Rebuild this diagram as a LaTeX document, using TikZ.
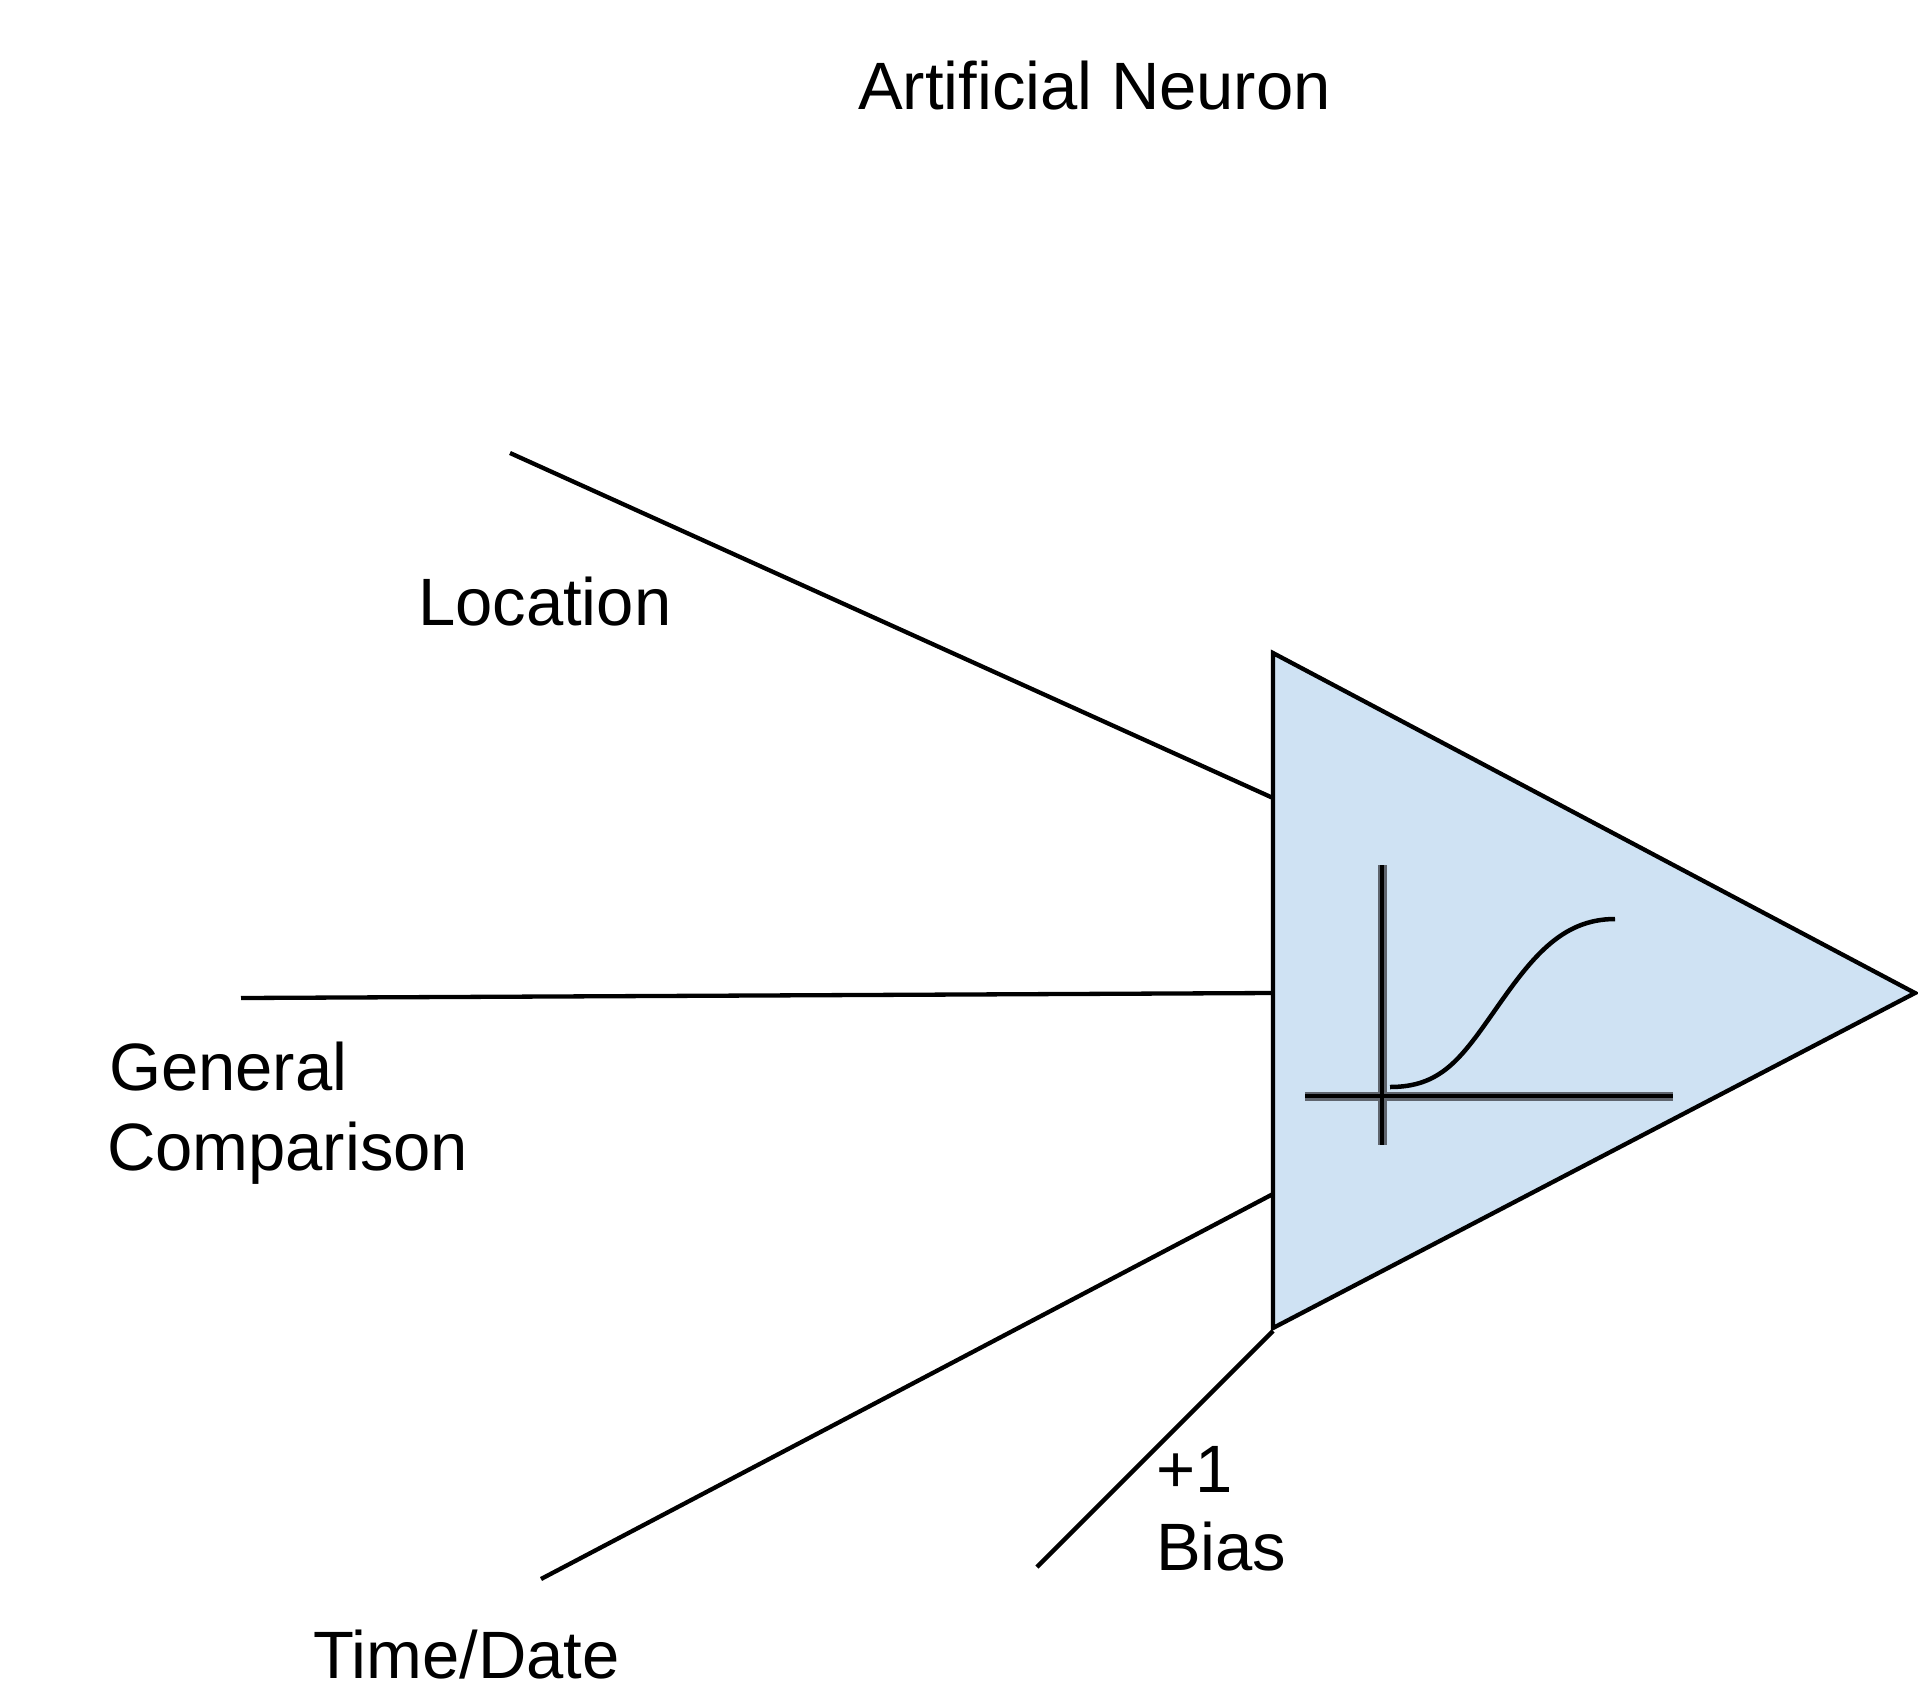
\documentclass[tikz,border=0pt]{standalone}
\usepackage{fontspec}
\setmainfont{Liberation Sans}
\definecolor{neuronfill}{RGB}{207,226,243}
\definecolor{halo}{RGB}{95,101,110}
\begin{document}
\begin{tikzpicture}[x=1pt,y=-1pt,
  lbl/.style={inner sep=0pt,outer sep=0pt,anchor=base west,font=\fontsize{67}{80}\selectfont},
  wire/.style={line width=4.3pt,black},
  axisline/.style={line width=4.5pt,black}]
\useasboundingbox (0,0) rectangle (1918,1699);
% title
\node[lbl] (title) at (858,110) {Artificial Neuron};
% triangle (neuron body)
\coordinate (tl) at (1273,653);
\coordinate (bl) at (1273,1328);
\coordinate (tip) at (1915,993);
\draw[line width=4.3pt,fill=neuronfill,line join=miter] (tl) -- (tip) -- (bl) -- cycle;
% input end points on the body
\coordinate (locIn) at (1273,798);
\coordinate (genIn) at (1273,993);
\coordinate (timeIn) at (1273,1194);
\coordinate (biasIn) at (1273,1331);
% free ends
\coordinate (locEnd) at (510,453);
\coordinate (genEnd) at (241,998);
\coordinate (timeEnd) at (541,1579);
\coordinate (biasEnd) at (1037,1567);
\draw[wire] (locEnd) -- (locIn);
\draw[wire] (genEnd) -- (genIn);
\draw[wire] (timeEnd) -- (timeIn);
\draw[wire] (biasEnd) -- (biasIn);
% axes
\coordinate (vTop) at (1382,865);
\coordinate (vBot) at (1382,1145);
\coordinate (hL) at (1305,1096);
\coordinate (hR) at (1673,1096);
\draw[line width=9pt,halo] (vTop) -- (vBot);
\draw[line width=9pt,halo] (hL) -- (hR);
\draw[axisline] (vTop) -- (vBot);
\draw[axisline] (hL) -- (hR);
% sigmoid
\coordinate (sStart) at (1390,1087);
\coordinate (sMid) at (1493,1013);
\coordinate (sEnd) at (1615,919);
\draw[line width=4.5pt] (sStart) .. controls (1440,1087) and (1460,1060) .. (sMid)
  .. controls (1530,960) and (1560,919) .. (sEnd);
% labels
\node[lbl] (loc) at (418,625) {Location};
\node[lbl] (gen1) at (109,1090) {General};
\node[lbl] (gen2) at (107,1170) {Comparison};
\node[lbl] (time) at (313,1678) {Time/Date};
\node[lbl] (plusone) at (1156,1492) {+1};
\node[lbl] (bias) at (1156,1570) {Bias};
\end{tikzpicture}
\end{document}
